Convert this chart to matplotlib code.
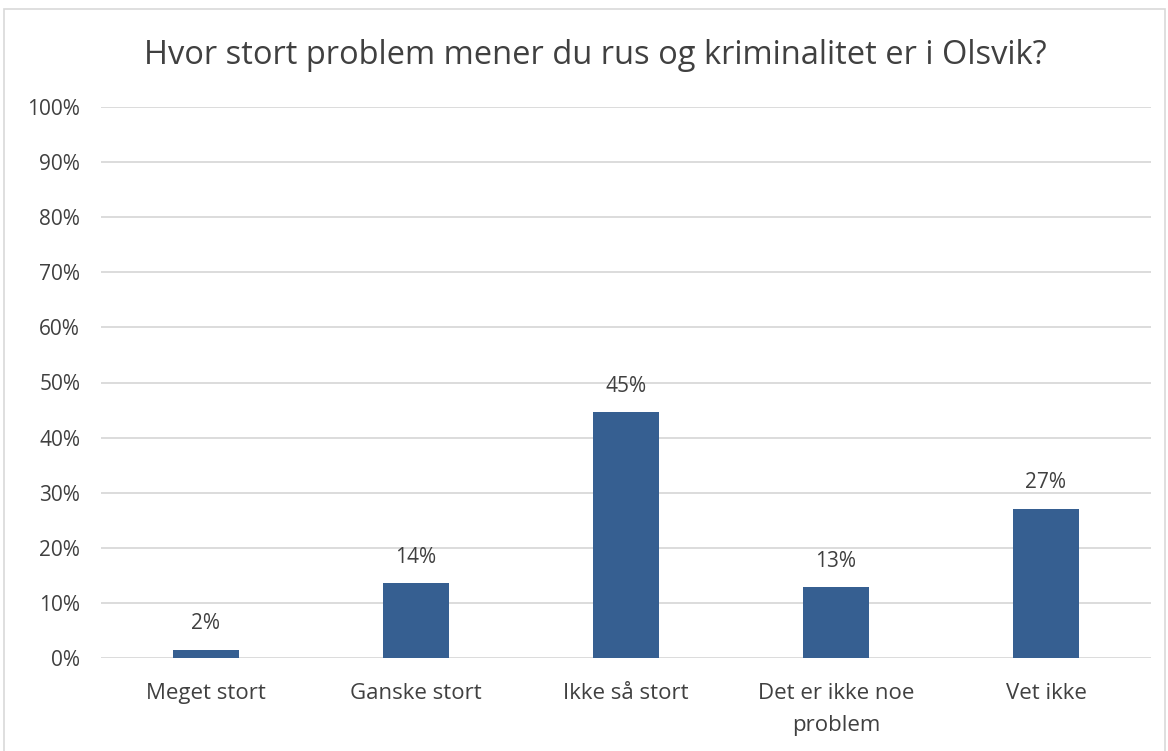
import matplotlib
matplotlib.use("Agg")
import matplotlib.pyplot as plt
from matplotlib.patches import Rectangle

categories = ["Meget stort", "Ganske stort", "Ikke så stort", "Det er ikke noe\nproblem", "Vet ikke"]
values = [1.5, 13.6, 44.6, 12.8, 27.1]
labels = ["2%", "14%", "45%", "13%", "27%"]
yticks = list(range(0, 101, 10))
title = "Hvor stort problem mener du rus og kriminalitet er i Olsvik?"

plt.rcParams['font.family'] = ['Open Sans', 'DejaVu Sans']
text_color = '#404040'
bar_color = '#365F91'
grid_color = '#D9D9D9'

fig = plt.figure(figsize=(11.68, 7.51), dpi=100)
fig.patch.set_facecolor('white')
fig.patches.append(Rectangle((4/1168, -0.1), 1161/1168, 1.1 - 9/751, transform=fig.transFigure,
                             fill=False, edgecolor=grid_color, linewidth=1.2))

ax = fig.add_axes([101/1168, 1 - 658/751, 1050/1168, 551/751])
x = list(range(len(categories)))
bars = ax.bar(x, values, width=0.315, color=bar_color, zorder=3)
ax.set_xlim(-0.5, len(categories) - 0.5)
ax.set_ylim(0, 100)
ax.set_yticks(yticks)
ax.set_yticklabels([f"{v}%" for v in yticks], color=text_color, fontsize=15)
ax.set_xticks(x)
ax.set_xticklabels(categories, color=text_color, fontsize=16, linespacing=1.7)
ax.tick_params(axis='both', length=0)
ax.tick_params(axis='y', pad=15)
ax.tick_params(axis='x', pad=18)
ax.yaxis.grid(True, color=grid_color, linewidth=1.3, zorder=0)
for s in ax.spines.values():
    s.set_visible(False)

for xi, v, lab in zip(x, values, labels):
    ax.annotate(lab, (xi, v), xytext=(0, 11), textcoords='offset points',
                ha='center', va='bottom', color=text_color, fontsize=15)

fig.text(595/1168, 1 - 55/751, title, ha='center', va='center', color=text_color, fontsize=23.5)

fig.savefig("out.png", dpi=100, facecolor='white')
